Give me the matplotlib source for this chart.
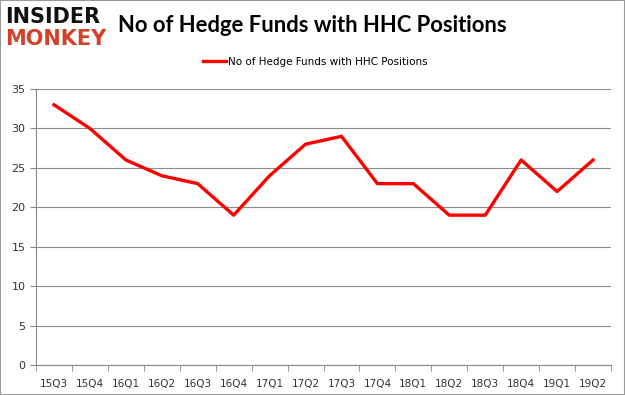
import matplotlib.pyplot as plt
import numpy as np

quarters = ['15Q3', '15Q4', '16Q1', '16Q2', '16Q3', '16Q4', '17Q1', '17Q2',
            '17Q3', '17Q4', '18Q1', '18Q2', '18Q3', '18Q4', '19Q1', '19Q2']
funds = [33, 30, 26, 24, 23, 19, 24, 28, 29, 23, 23, 19, 19, 26, 22, 26]

W, H = 625, 395
fig = plt.figure(figsize=(W / 100, H / 100), dpi=100)

# plot area in pixels: x 36..611, y 89..365
ax = fig.add_axes([36 / W, 1 - 365 / H, (611 - 36) / W, (365 - 89) / H])

x = np.arange(len(quarters))
ax.plot(x, funds, color='#ff0000', linewidth=2.4, label='No of Hedge Funds with HHC Positions')

ax.set_xlim(-0.5, len(quarters) - 0.5)
ax.set_ylim(0, 35)
ax.set_yticks(range(0, 36, 5))
ax.set_xticks(x)
ax.set_xticklabels(quarters)
ax.set_xticks(np.arange(-0.5, len(quarters), 1), minor=True)
ax.tick_params(axis='x', which='major', length=0, pad=10, labelsize=7.5, labelcolor='#333333')
ax.tick_params(axis='x', which='minor', length=4, color='#888888')
ax.tick_params(axis='y', length=4, color='#888888', labelsize=8, labelcolor='#333333')

ax.grid(axis='y', color='#8c8c8c', linewidth=0.8)
ax.set_axisbelow(True)
for s in ['top', 'right']:
    ax.spines[s].set_visible(False)
ax.spines['left'].set_color('#888888')
ax.spines['bottom'].set_color('#888888')

fig.text(312 / W, 1 - 25 / H, 'No of Hedge Funds with HHC Positions',
         ha='center', va='center', fontsize=15.8, fontweight='bold', family='Lato')

leg = fig.legend(loc='center', bbox_to_anchor=(315 / W, 1 - 62 / H), frameon=False,
                 fontsize=7.5, handlelength=2.2, handletextpad=0.2)

# logo
fig.text(5 / W, 1 - 17 / H, 'INSIDER', fontsize=15, fontweight='bold',
         color='#111111', va='center', ha='left')
fig.text(5 / W, 1 - 39 / H, 'MONKEY', fontsize=15, fontweight='bold',
         color='#d3412a', va='center', ha='left')

# outer border
fig.add_artist(plt.Rectangle((0, 0), 1, 1, transform=fig.transFigure,
                             fill=False, edgecolor='#999999', linewidth=1.5))

fig.savefig('out.png', dpi=100)
